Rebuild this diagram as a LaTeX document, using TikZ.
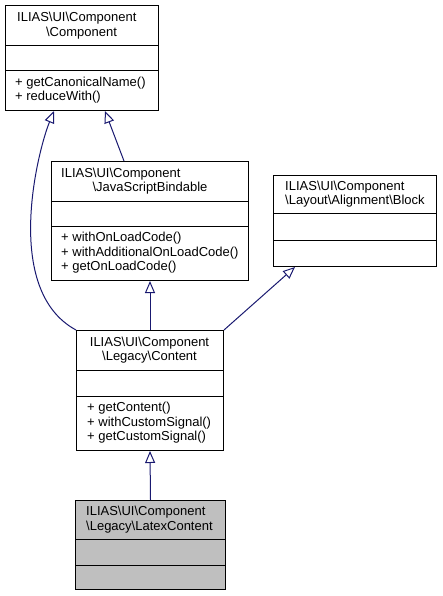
\documentclass[tikz,border=0pt]{standalone}
\usepackage{fontspec}
\setmainfont{Liberation Sans}
\usetikzlibrary{arrows.meta}
\definecolor{edgeblue}{RGB}{25,25,112}
\definecolor{boxgray}{RGB}{191,191,191}
\begin{document}
\begin{tikzpicture}[x=1pt,y=-1pt,
  box/.style={draw=black,line width=1pt,rectangle,inner sep=0pt,anchor=north west,fill=white},
  sep/.style={draw=black,line width=1pt},
  txt/.style={font=\fontsize{13}{15}\selectfont,inner sep=0pt,text height=9.5pt,text depth=2.8pt},
  lt/.style={txt,anchor=west},
  ct/.style={txt,anchor=center},
  inh/.style={draw=edgeblue,line width=1pt,-{Triangle[open,length=12pt,width=10pt,fill=white]}}
]
\useasboundingbox (0,0) rectangle (443,596);
% boxes
\node[box,minimum width=153pt,minimum height=105pt] (comp) at (5,5) {};
\node[box,minimum width=197pt,minimum height=119pt] (js) at (51,161) {};
\node[box,minimum width=163pt,minimum height=91pt] (block) at (273,175) {};
\node[box,minimum width=147pt,minimum height=120pt] (content) at (76,330) {};
\node[box,minimum width=150pt,minimum height=89pt,fill=boxgray] (latex) at (75,500) {};
% separators
\draw[sep] (5,46) -- (158,46);
\draw[sep] (5,71) -- (158,71);
\draw[sep] (51,201) -- (248,201);
\draw[sep] (51,226) -- (248,226);
\draw[sep] (273,213) -- (436,213);
\draw[sep] (273,240) -- (436,240);
\draw[sep] (76,370) -- (223,370);
\draw[sep] (76,396) -- (223,396);
\draw[sep] (75,539) -- (225,539);
\draw[sep] (75,565) -- (225,565);
% texts: Component
\node[lt] (c1) at (17,18.25) {ILIAS\textbackslash UI\textbackslash Component};
\node[ct] (c2) at (81.5,32.75) {\textbackslash Component};
\node[lt] (c3) at (15,83.5) {+ getCanonicalName()};
\node[lt] (c4) at (15,97) {+ reduceWith()};
% JavaScriptBindable
\node[lt] (j1) at (61,173.75) {ILIAS\textbackslash UI\textbackslash Component};
\node[ct] (j2) at (150,188.25) {\textbackslash JavaScriptBindable};
\node[lt] (j3) at (61,238.5) {+ withOnLoadCode()};
\node[lt] (j4) at (61,253) {+ withAdditionalOnLoadCode()};
\node[lt] (j5) at (61,267.5) {+ getOnLoadCode()};
% Block
\node[lt] (b1) at (285,186.75) {ILIAS\textbackslash UI\textbackslash Component};
\node[lt] (b2) at (285,201.25) {\textbackslash Layout\textbackslash Alignment\textbackslash Block};
% Content
\node[ct] (n1) at (149.5,342.75) {ILIAS\textbackslash UI\textbackslash Component};
\node[ct] (n2) at (149.5,357.25) {\textbackslash Legacy\textbackslash Content};
\node[lt] (n3) at (87,408.5) {+ getContent()};
\node[lt] (n4) at (87,423) {+ withCustomSignal()};
\node[lt] (n5) at (87,437.5) {+ getCustomSignal()};
% LatexContent
\node[lt] (l1) at (86,512.25) {ILIAS\textbackslash UI\textbackslash Component};
\node[lt] (l2) at (86,526.75) {\textbackslash Legacy\textbackslash LatexContent};
% connectors
\draw[inh] (content.north west) .. controls (2,290) and (38,150) .. ([xshift=49pt]comp.south west);
\draw[inh] ([xshift=73pt]js.north west) -- ([xshift=100pt]comp.south west);
\draw[inh] (content.north) -- (js.south);
\draw[inh] (content.north east) -- ([xshift=22pt]block.south west);
\draw[inh] (latex.north) -- (content.south);
\end{tikzpicture}
\end{document}
